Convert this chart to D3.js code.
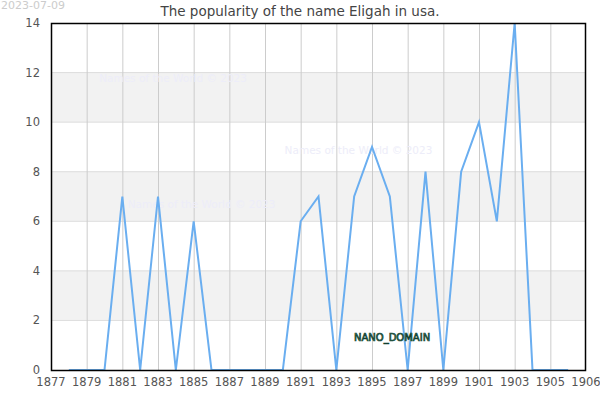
<!DOCTYPE html>
<html>
<head>
<meta charset="utf-8">
<script src="https://cdn.jsdelivr.net/npm/d3@7"></script>
<style>
body { margin: 0; background: #fff; }
svg text { font-family: "DejaVu Sans", sans-serif; }
</style>
</head>
<body>
<script>
const width = 600;
const height = 400;

const years = [1878, 1879, 1880, 1881, 1882, 1883, 1884, 1885, 1886, 1887, 1888, 1889, 1890,
    1891, 1892, 1893, 1894, 1895, 1896, 1897, 1898, 1899, 1900, 1901, 1902, 1903, 1904, 1905, 1906];
const counts = [0, 0, 0, 7, 0, 7, 0, 6, 0, 0, 0, 0, 0,
    6, 7, 0, 7, 9, 7, 0, 8, 0, 8, 10, 6, 14, 0, 0, 0];
const xTicks = [1877, 1879, 1881, 1883, 1885, 1887, 1889, 1891, 1893, 1895, 1897, 1899, 1901, 1903, 1905, 1907];
const xTickLabels = ['1877', '1879', '1881', '1883', '1885', '1887', '1889', '1891', '1893', '1895', '1897', '1899', '1901', '1903', '1905', '1906'];
const yTicks = [0, 2, 4, 6, 8, 10, 12, 14];
const bands = [[2, 4], [6, 8], [10, 12]];
const watermarks = [[1879.7, 11.6], [1890.1, 8.7], [1881.3, 6.55]];

const margin = {top: 23, right: 14, bottom: 30, left: 51};

const svg = d3.select('body').append('svg').attr('width', width).attr('height', height);

const x = d3.scaleLinear().domain([1877, 1907]).range([margin.left, width - margin.right]);
const y = d3.scaleLinear().domain([0, 14]).range([height - margin.bottom, margin.top]);

// date
svg.append('text')
    .attr('x', 1).attr('y', 9)
    .attr('fill', '#ccc').attr('font-size', 11)
    .text('2023-07-09');

// title
svg.append('text')
    .attr('x', 300).attr('y', 16)
    .attr('text-anchor', 'middle')
    .attr('fill', '#444').attr('font-size', 13.5)
    .text('The popularity of the name Eligah in usa.');

const g = svg.append('g');

g.selectAll('.band')
    .data(bands)
    .enter()
    .append('rect')
    .attr('class', 'band')
    .attr('x', x(1877))
    .attr('width', x(1907) - x(1877))
    .attr('y', d => y(d[1]))
    .attr('height', d => y(d[0]) - y(d[1]))
    .attr('fill', '#f2f2f2');

g.selectAll('.hgrid')
    .data(yTicks.slice(1, -1))
    .enter()
    .append('line')
    .attr('class', 'hgrid')
    .attr('x1', x(1877)).attr('x2', x(1907))
    .attr('y1', d => y(d)).attr('y2', d => y(d))
    .attr('stroke', '#ddd');

g.selectAll('.vgrid')
    .data(xTicks.slice(1, -1))
    .enter()
    .append('line')
    .attr('class', 'vgrid')
    .attr('x1', d => x(d) + 0.5).attr('x2', d => x(d) + 0.5)
    .attr('y1', y(0)).attr('y2', y(14))
    .attr('stroke', '#ccc');

g.selectAll('.wm')
    .data(watermarks)
    .enter()
    .append('text')
    .attr('class', 'wm')
    .attr('x', d => x(d[0]))
    .attr('y', d => y(d[1]))
    .attr('fill', '#ededf9')
    .attr('font-size', 10.5)
    .text('Names of the World © 2023');

const line = d3.line()
    .x((d, i) => x(years[i]))
    .y(d => y(d));

g.append('path')
    .datum(counts)
    .attr('d', line)
    .attr('fill', 'none')
    .attr('stroke', '#6aaef0')
    .attr('stroke-width', 2);

// frame
g.append('rect')
    .attr('x', x(1877) + 0.5).attr('y', y(14) + 0.5)
    .attr('width', x(1907) - x(1877) - 1)
    .attr('height', y(0) - y(14))
    .attr('fill', 'none')
    .attr('stroke', '#000')
    .attr('stroke-width', 1.5);

// axis labels
g.selectAll('.ylab')
    .data(yTicks)
    .enter()
    .append('text')
    .attr('class', 'ylab')
    .attr('x', 40)
    .attr('y', d => y(d) + 4)
    .attr('text-anchor', 'end')
    .attr('fill', '#555').attr('font-size', 11.5)
    .text(d => d);

g.selectAll('.xlab')
    .data(xTicks)
    .enter()
    .append('text')
    .attr('class', 'xlab')
    .attr('x', d => x(d))
    .attr('y', 386)
    .attr('text-anchor', 'middle')
    .attr('fill', '#555').attr('font-size', 11.5)
    .text((d, i) => xTickLabels[i]);

svg.append('text')
    .attr('x', 354).attr('y', 341)
    .attr('fill', '#4f9579')
    .attr('stroke', '#123f2f').attr('stroke-width', 0.7)
    .attr('font-size', 10)
    .text('NANO_DOMAIN');
</script>
</body>
</html>
